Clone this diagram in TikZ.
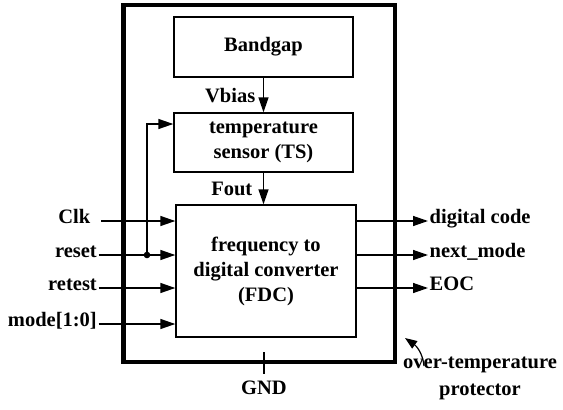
\documentclass[tikz,border=0pt]{standalone}
\usepackage{fontspec}
\setmainfont{Liberation Serif}
\usetikzlibrary{arrows.meta}
\begin{document}
\begin{tikzpicture}[x=1pt,y=-1pt,
  every node/.style={font=\fontsize{20.5}{25}\selectfont\bfseries},
  blk/.style={draw, line width=1.4pt, align=center, inner sep=0pt},
  lbl/.style={inner sep=1.5pt},
  wire/.style={line width=1.4pt},
  sig/.style={wire, -{Triangle[length=15pt,width=10pt]}}]
\useasboundingbox (0,0) rectangle (563,410);

% outer frame: the over-temperature protector
\node[draw, line width=4.5pt, minimum width=271.5pt, minimum height=357pt, inner sep=0pt] (otp) at (259.25,183.5) {};

% internal blocks
\node[blk, minimum width=179pt, minimum height=60pt] (bg) at (263.5,47) {Bandgap};
\node[blk, minimum width=179pt, minimum height=59pt] (ts) at (263.5,142.5) {temperature\\sensor (TS)};
\node[blk, minimum width=180pt, minimum height=132pt] (fdc) at (266,271) {frequency to\\digital converter\\(FDC)};

% bias and frequency paths
\draw[sig] (bg.south) -- (ts.north);
\node[lbl, anchor=east] (vb) at (257,96) {Vbias};
\draw[sig] (ts.south) -- (ts.south |- fdc.north);
\node[lbl, anchor=east] (fo) at (254,189) {Fout};

% inputs
\node[lbl, anchor=mid east] (clk) at (92,221) {Clk};
\node[lbl, anchor=mid east] (rst) at (98.5,255) {reset};
\node[lbl, anchor=mid east] (rtt) at (98.5,288) {retest};
\node[lbl, anchor=mid east] (mode) at (98.5,324) {mode[1:0]};
\draw[sig] ([xshift=9pt]clk.mid east) -- (clk.mid east -| fdc.west);
\draw[sig] (rst.mid east) -- (rst.mid east -| fdc.west);
\draw[sig] (rtt.mid east) -- (rtt.mid east -| fdc.west);
\draw[sig] (mode.mid east) -- (mode.mid east -| fdc.west);

% reset also goes to the sensor
\coordinate (jn) at (147,255);
\fill (jn) circle (3.3pt);
\draw[sig] (jn) |- ([yshift=18.5pt]ts.west);

% outputs
\node[lbl, anchor=mid west] (dc) at (428,221) {digital code};
\node[lbl, anchor=mid west] (nm) at (428,255) {next\_mode};
\node[lbl, anchor=mid west] (eoc) at (428,288) {EOC};
\draw[sig] (dc.mid west -| fdc.east) -- (dc.mid west);
\draw[sig] (nm.mid west -| fdc.east) -- (nm.mid west);
\draw[sig] (eoc.mid west -| fdc.east) -- (eoc.mid west);

% ground
\node[lbl] (gnd) at (264,388) {GND};
\draw[wire] ([yshift=5.5pt]gnd.north) -- ++(0,-22);

% caption with pointer to the frame
\node[align=center, font=\fontsize{20.5}{27}\selectfont\bfseries] (cap) at (480,378) {over-temperature\\protector};
\coordinate (pt) at (424,366);
\draw[wire, line width=1.2pt, -{Triangle[length=12pt,width=9pt]}] (pt) to[out=95, in=-35] (405,338);
\end{tikzpicture}
\end{document}
